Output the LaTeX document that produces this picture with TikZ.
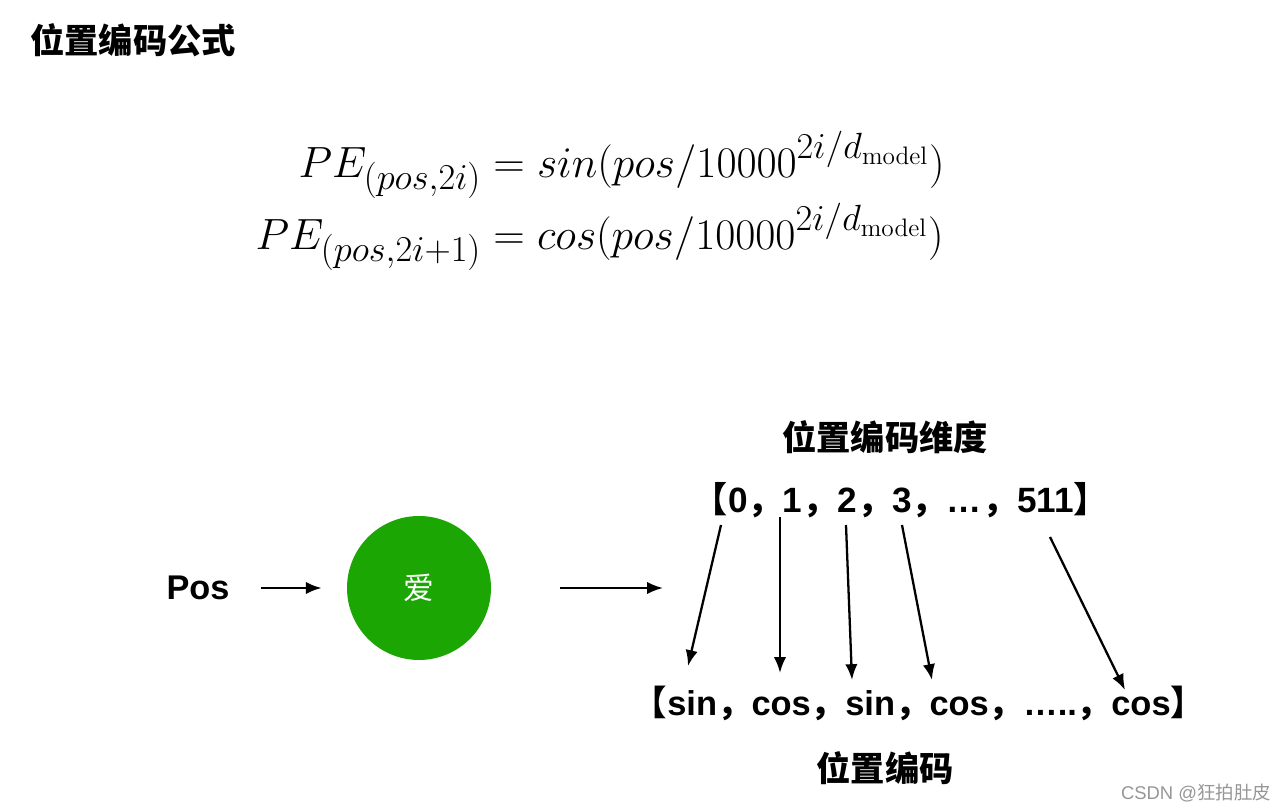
\documentclass[tikz,border=0pt]{standalone}
\usepackage{amsmath}
\usepackage[no-math]{fontspec}
\setmainfont{Liberation Sans}
\newfontfamily\cjk{Noto Sans CJK SC}
\usepackage{xcolor}
\usetikzlibrary{arrows.meta}
\definecolor{aigreen}{RGB}{27,166,4}
\definecolor{markgray}{RGB}{150,150,150}
\newcommand{\zc}{{\cjk ，}}

\begin{document}
\begin{tikzpicture}[>={Latex[length=9pt,width=7pt]},
    arr/.style={->, line width=1.3pt},
    cntxt/.style={inner sep=0, font=\fontsize{19.5}{23}\selectfont\cjk\bfseries},
    listtxt/.style={inner sep=0, font=\fontsize{20}{24}\selectfont\bfseries}]
    \useasboundingbox (0,0) rectangle (25.6,16.22);

    % 1. Tiêu đề và công thức
    \node[cntxt, anchor=west] (title) at (0.6,15.42) {位置编码公式};
    \node[anchor=east, inner sep=0, font=\fontsize{27.9}{33}\selectfont] (formula) at (18.9,12.2)
        {$\begin{aligned}
            PE_{(pos,2i)} &= sin(pos/10000^{2i/d_{\mathrm{model}}})\\[-1pt]
            PE_{(pos,2i+1)} &= cos(pos/10000^{2i/d_{\mathrm{model}}})
        \end{aligned}$};

    % 2. Pos -> 爱
    \node[inner sep=0, font=\fontsize{19.5}{23}\selectfont\bfseries] (pos) at (3.96,4.46) {Pos};
    \node[circle, fill=aigreen, minimum size=2.88cm, inner sep=0,
          text=white, font=\fontsize{17.5}{20}\selectfont\cjk] (ai) at (8.38,4.46) {爱};
    \draw[arr, shorten <=0.62cm, shorten >=0.5cm] (pos) -- (ai);
    \coordinate (out1) at (11.2,4.46);
    \coordinate (out2) at (13.26,4.46);
    \draw[arr] (out1) -- (out2);

    % 3. Hai dãy và nhãn
    \node[cntxt] (dimlabel) at (17.7,7.48) {位置编码维度};
    \node[listtxt] (dims) at (18.02,6.22)
        {{\cjk 【}0\zc 1\zc 2\zc 3\zc …\zc 511{\cjk 】}};
    \node[listtxt, font=\fontsize{19.6}{24}\selectfont\bfseries] (codes) at (18.38,2.16)
        {{\cjk 【}sin\zc cos\zc sin\zc cos\zc …..\zc cos{\cjk 】}};
    \node[cntxt] (codelabel) at (17.7,0.86) {位置编码};

    % 4. Mũi tên từ chiều sang sin/cos
    \coordinate (d0) at (14.42,5.72);  \coordinate (c0) at (13.76,2.90);
    \coordinate (d1) at (15.60,5.88);  \coordinate (c1) at (15.60,2.76);
    \coordinate (d2) at (16.92,5.72);  \coordinate (c2) at (17.04,2.62);
    \coordinate (d3) at (18.04,5.72);  \coordinate (c3) at (18.64,2.62);
    \coordinate (d4) at (21.00,5.48);  \coordinate (c4) at (22.50,2.42);
    \draw[arr] (d0) -- (c0);
    \draw[arr] (d1) -- (c1);
    \draw[arr] (d2) -- (c2);
    \draw[arr] (d3) -- (c3);
    \draw[arr] (d4) -- (c4);

    % 5. Watermark
    \node[inner sep=0, text=markgray, font=\fontsize{10.5}{12}\selectfont] (mark) at (23.92,0.36)
        {CSDN @{\cjk 狂拍肚皮}};
\end{tikzpicture}
\end{document}
